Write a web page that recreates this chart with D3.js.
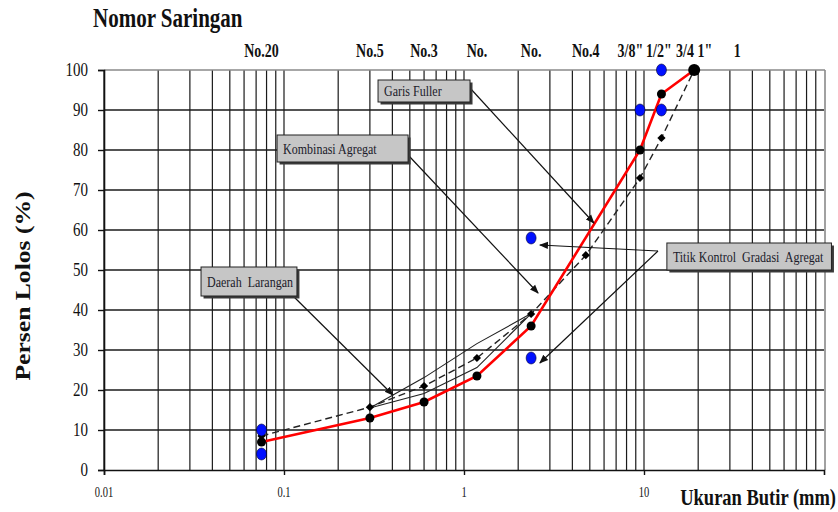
<!DOCTYPE html>
<html>
<head>
<meta charset="utf-8">
<script src="https://cdn.jsdelivr.net/npm/d3@7"></script>
<style>
  body { margin: 0; background: #fff; }
  svg { display: block; }
</style>
</head>
<body>
<div id="chart"></div>
<script>
// ---- data ----
const kombinasiSizes = [0.075, 0.3, 0.6, 1.18, 2.36, 9.5, 12.5, 19];
const kombinasiPass = [7, 13, 17, 23.5, 36, 80, 94, 100];

const fullerSizes = [0.075, 0.3, 0.6, 1.18, 2.36, 4.75, 9.5, 12.5, 19];
const fullerPass = [8.5, 15.7, 21, 28, 39, 53.7, 73, 83, 100];

const controlSizes = [0.075, 0.075, 2.36, 2.36, 9.5, 12.5, 12.5];
const controlPass = [10, 4, 58, 28, 90, 90, 100];

const zoneSizes = [0.3, 0.6, 1.18, 2.36];
const zoneUpper = [15.5, 23.1, 31.6, 39.1];
const zoneLower = [15.5, 19.1, 25.6, 39.1];

const yTicks = [0, 10, 20, 30, 40, 50, 60, 70, 80, 90, 100];
const xTickLabels = [0.01, 0.1, 1, 10];
const sieveLabels = ['No.20', 'No.5', 'No.3', 'No.', 'No.', 'No.4', '3/8"', '1/2"', '3/4', '1"', '1'];
const sieveLabelAt = [0.075, 0.3, 0.6, 1.18, 2.36, 4.75, 8.4, 12.1, 16.9, 21.8, 33];

// callouts: box corners and arrow ends in data units (mm, %)
const callouts = [
  { text: 'Garis Fuller', box: [0.333, 1.08, 97.5, 92], from: [1.08, 95.5], to: [[5.27, 61.75]] },
  { text: 'Kombinasi Agregat', box: [0.0915, 0.489, 83.75, 77], from: [0.489, 78.75], to: [[2.58, 44.25]] },
  { text: 'Daerah  Larangan', box: [0.0346, 0.118, 50.75, 43.5], from: [0.1013, 45.5], to: [[0.403, 18.75]] },
  { text: 'Titik Kontrol  Gradasi  Agregat', box: [13.4, 110, 56.75, 50], from: [11.96, 54.75], to: [[2.64, 56.25], [2.64, 26.75]] },
];

const W = 838, H = 512;
const serif = '"Liberation Serif", "Times New Roman", serif';

const x = d3.scaleLog().domain([0.01, 100]).range([104, 824]);
const y = d3.scaleLinear().domain([0, 100]).range([470, 70]);

const svg = d3.select('#chart').append('svg')
  .attr('width', W).attr('height', H)
  .style('background', '#fff');

const defs = svg.append('defs');
defs.append('marker')
  .attr('id', 'arrow')
  .attr('viewBox', '0 0 10 10')
  .attr('refX', 9).attr('refY', 5)
  .attr('markerWidth', 9).attr('markerHeight', 9)
  .attr('markerUnits', 'userSpaceOnUse')
  .attr('orient', 'auto')
  .append('path').attr('d', 'M0,1 L10,5 L0,9 Z').attr('fill', '#111');

// text with the vertical stretch seen in the picture
function label(g, px, py, str, size, weight, anchor, sy = 1.25, color = '#111') {
  return g.append('text')
    .attr('transform', `translate(${px},${py}) scale(1,${sy})`)
    .attr('text-anchor', anchor)
    .style('font-family', serif)
    .style('font-size', size + 'px')
    .style('font-weight', weight)
    .attr('fill', color)
    .text(str);
}

// ---- grid ----
const grid = svg.append('g');
const vLines = [];
for (let k = -2; k <= 1; k++) for (let m = 1; m <= 9; m++) vLines.push(m * Math.pow(10, k));

grid.selectAll('line.v').data(vLines).join('line')
  .attr('x1', d => x(d)).attr('x2', d => x(d))
  .attr('y1', y(100)).attr('y2', y(0))
  .attr('stroke', '#1a1a1a').attr('stroke-width', 1.2);

grid.selectAll('line.h').data(yTicks.slice(1, -1)).join('line')
  .attr('x1', x(0.01)).attr('x2', x(100))
  .attr('y1', d => y(d)).attr('y2', d => y(d))
  .attr('stroke', '#1a1a1a').attr('stroke-width', 1.4);

// frame: grey top and right, black left and bottom
grid.append('line').attr('x1', x(0.01)).attr('x2', x(100) + 1).attr('y1', y(100)).attr('y2', y(100))
  .attr('stroke', '#8a8a8a').attr('stroke-width', 1.6);
grid.append('line').attr('x1', x(100) + 1).attr('x2', x(100) + 1).attr('y1', y(100)).attr('y2', y(0))
  .attr('stroke', '#8a8a8a').attr('stroke-width', 1.6);

// ---- axes ----
const yAxis = svg.append('g').attr('transform', `translate(${x(0.01)},0)`)
  .call(d3.axisLeft(y).tickValues(yTicks).tickSize(6).tickFormat(''));
const xAxis = svg.append('g').attr('transform', `translate(0,${y(0)})`)
  .call(d3.axisBottom(x).tickValues(xTickLabels).tickSize(5).tickFormat(''));
[yAxis, xAxis].forEach(a => {
  a.select('.domain').attr('stroke', '#111').attr('stroke-width', 1.6);
  a.selectAll('.tick line').attr('stroke', '#111').attr('stroke-width', 1.4);
});

yTicks.forEach(t => label(svg, 88, y(t) + 6, String(t), 15, 'normal', 'end', 1.2));
xTickLabels.forEach(t => label(svg, x(t), 497, String(t), 10.5, 'normal', 'middle', 1.35));
sieveLabels.forEach((s, i) => label(svg, x(sieveLabelAt[i]), 57, s, 14, 'bold', 'middle', 1.3));

label(svg, 93, 27, 'Nomor Saringan', 21, 'bold', 'start', 1.25);
label(svg, 836, 505, 'Ukuran Butir (mm)', 18.5, 'bold', 'end', 1.3);
svg.append('text')
  .attr('transform', 'translate(30,286) rotate(-90) scale(1.28,1)')
  .attr('text-anchor', 'middle')
  .style('font-family', serif).style('font-size', '20px').style('font-weight', 'bold')
  .attr('fill', '#111')
  .text('Persen Lolos (%)');

// ---- restricted zone ----
const zoneLine = d3.line().x(d => x(d[0])).y(d => y(d[1]));
const zone = svg.append('g');
[zoneUpper, zoneLower].forEach(vals => {
  zone.append('path')
    .attr('d', zoneLine(zoneSizes.map((s, i) => [s, vals[i]])))
    .attr('fill', 'none').attr('stroke', '#222').attr('stroke-width', 1.1);
});

// ---- Fuller (dashed) ----
const fullerPts = fullerSizes.map((s, i) => [s, fullerPass[i]]);
svg.append('path')
  .attr('d', zoneLine(fullerPts))
  .attr('fill', 'none').attr('stroke', '#222').attr('stroke-width', 1.4)
  .attr('stroke-dasharray', '7,4');
svg.selectAll('path.fd').data(fullerPts).join('path')
  .attr('transform', d => `translate(${x(d[0])},${y(d[1])}) rotate(45)`)
  .attr('d', d3.symbol(d3.symbolSquare, 34))
  .attr('fill', '#000');

// ---- combined aggregate (red) ----
const kombPts = kombinasiSizes.map((s, i) => [s, kombinasiPass[i]]);
svg.append('path')
  .attr('d', zoneLine(kombPts))
  .attr('fill', 'none').attr('stroke', '#ff0000').attr('stroke-width', 2.6);
svg.selectAll('circle.k').data(kombPts).join('circle')
  .attr('cx', d => x(d[0])).attr('cy', d => y(d[1]))
  .attr('r', (d, i) => i === kombPts.length - 1 ? 6 : 4.5)
  .attr('fill', '#000');

// ---- control points ----
svg.selectAll('ellipse.c').data(controlSizes.map((s, i) => [s, controlPass[i]])).join('ellipse')
  .attr('cx', d => x(d[0])).attr('cy', d => y(d[1]))
  .attr('rx', 5).attr('ry', 6)
  .attr('fill', '#0010ff').attr('stroke', '#000030').attr('stroke-width', 0.6);

// ---- callouts ----
const ann = svg.append('g');
callouts.forEach(c => {
  c.to.forEach(t => {
    ann.append('line')
      .attr('x1', x(c.from[0])).attr('y1', y(c.from[1]))
      .attr('x2', x(t[0])).attr('y2', y(t[1]))
      .attr('stroke', '#111').attr('stroke-width', 1.2)
      .attr('marker-end', 'url(#arrow)');
  });
  const bx = x(c.box[0]), bw = x(c.box[1]) - bx;
  const by = y(c.box[2]), bh = y(c.box[3]) - by;
  ann.append('rect').attr('x', bx + 2.5).attr('y', by + 2.5).attr('width', bw).attr('height', bh)
    .attr('fill', '#3a3a3a');
  ann.append('rect').attr('x', bx).attr('y', by).attr('width', bw).attr('height', bh)
    .attr('fill', '#c6c6c6').attr('stroke', '#222').attr('stroke-width', 1);
  label(ann, bx + 6, by + bh / 2 + 5, c.text, 12, 'normal', 'start', 1.2, '#1b1b2a')
    .style('white-space', 'pre');
});
</script>
</body>
</html>
